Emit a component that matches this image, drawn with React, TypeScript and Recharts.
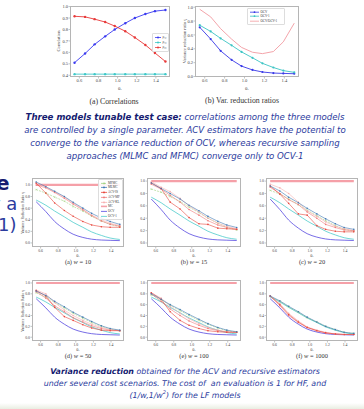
import React from 'react';
import { LineChart, Line, XAxis, YAxis, Legend } from 'recharts';

// theta_1 sample points shared by every panel
const theta = [0.55, 0.66, 0.76, 0.87, 0.97, 1.08, 1.18, 1.29, 1.39, 1.5];
const xTicks = [0.6, 0.8, 1.0, 1.2, 1.4];

// (a) correlations
const rho12 = [0.51, 0.59, 0.67, 0.74, 0.8, 0.855, 0.9, 0.935, 0.96, 0.97];
const rho13 = [0.41, 0.41, 0.41, 0.41, 0.41, 0.41, 0.41, 0.41, 0.41, 0.41];
const rho23 = [0.915, 0.91, 0.89, 0.865, 0.83, 0.785, 0.73, 0.665, 0.595, 0.52];

// (b) variance reduction ratios
const ocv = [0.71, 0.54, 0.37, 0.24, 0.15, 0.095, 0.065, 0.05, 0.045, 0.04];
const ocv1 = [0.74, 0.65, 0.55, 0.45, 0.355, 0.27, 0.19, 0.13, 0.085, 0.06];
const ocvRatio = [0.97, 0.86, 0.69, 0.54, 0.42, 0.35, 0.33, 0.36, 0.5, 0.77];

const mc = [1, 1, 1, 1, 1, 1, 1, 1, 1, 1];

// cost scenarios
const w10Mfmc = [0.92, 0.86, 0.79, 0.72, 0.63, 0.55, 0.46, 0.38, 0.32, 0.28];
const w10Mlmc = [1.05, 0.97, 0.89, 0.8, 0.7, 0.6, 0.51, 0.43, 0.37, 0.32];
const w10AcvIs = [1.03, 0.86, 0.69, 0.56, 0.46, 0.37, 0.31, 0.28, 0.27, 0.27];
const w10AcvMf = [1.0, 0.95, 0.87, 0.77, 0.67, 0.57, 0.47, 0.38, 0.32, 0.29];
const w10AcvKl = [1.04, 0.96, 0.88, 0.79, 0.69, 0.58, 0.48, 0.4, 0.34, 0.3];

const w15Mfmc = [0.87, 0.82, 0.75, 0.67, 0.58, 0.49, 0.4, 0.32, 0.25, 0.21];
const w15Mlmc = [0.97, 0.88, 0.8, 0.71, 0.61, 0.52, 0.43, 0.35, 0.29, 0.25];
const w15AcvIs = [0.97, 0.88, 0.66, 0.55, 0.41, 0.31, 0.3, 0.24, 0.23, 0.22];
const w15AcvMf = [0.95, 0.87, 0.77, 0.66, 0.54, 0.45, 0.36, 0.29, 0.25, 0.22];
const w15AcvKl = [0.99, 0.9, 0.83, 0.72, 0.6, 0.5, 0.4, 0.32, 0.27, 0.23];

const w20Mfmc = [0.85, 0.79, 0.71, 0.62, 0.53, 0.44, 0.36, 0.28, 0.22, 0.19];
const w20Mlmc = [0.92, 0.84, 0.74, 0.65, 0.56, 0.47, 0.39, 0.31, 0.25, 0.22];
const w20AcvIs = [0.92, 0.79, 0.64, 0.47, 0.45, 0.28, 0.22, 0.19, 0.18, 0.18];
const w20AcvMf = [0.9, 0.8, 0.7, 0.62, 0.5, 0.4, 0.3, 0.25, 0.21, 0.2];
const w20AcvKl = [0.95, 0.89, 0.8, 0.66, 0.52, 0.43, 0.34, 0.27, 0.23, 0.2];

const w50Mfmc = [0.82, 0.74, 0.64, 0.54, 0.44, 0.35, 0.27, 0.2, 0.15, 0.12];
const w50Mlmc = [0.85, 0.77, 0.66, 0.56, 0.46, 0.37, 0.29, 0.21, 0.16, 0.13];
const w50AcvIs = [0.86, 0.76, 0.55, 0.38, 0.31, 0.23, 0.17, 0.13, 0.12, 0.12];
const w50AcvMf = [0.84, 0.72, 0.58, 0.47, 0.36, 0.28, 0.21, 0.16, 0.13, 0.12];
const w50AcvKl = [0.87, 0.8, 0.64, 0.5, 0.4, 0.31, 0.24, 0.18, 0.14, 0.12];

const w100Mfmc = [0.78, 0.69, 0.59, 0.49, 0.4, 0.31, 0.24, 0.17, 0.12, 0.09];
const w100Mlmc = [0.8, 0.7, 0.6, 0.51, 0.42, 0.33, 0.25, 0.18, 0.13, 0.1];
const w100AcvIs = [0.82, 0.7, 0.47, 0.31, 0.22, 0.16, 0.12, 0.1, 0.09, 0.09];
const w100AcvMf = [0.8, 0.66, 0.52, 0.4, 0.3, 0.22, 0.16, 0.12, 0.1, 0.09];
const w100AcvKl = [0.82, 0.72, 0.57, 0.44, 0.34, 0.25, 0.18, 0.13, 0.1, 0.09];

const w1000Mfmc = [0.75, 0.66, 0.56, 0.46, 0.36, 0.28, 0.2, 0.14, 0.09, 0.07];
const w1000Mlmc = [0.76, 0.67, 0.57, 0.47, 0.37, 0.28, 0.2, 0.14, 0.09, 0.07];
const w1000AcvIs = [0.76, 0.6, 0.42, 0.28, 0.18, 0.12, 0.08, 0.06, 0.05, 0.05];
const w1000AcvMf = [0.76, 0.58, 0.4, 0.27, 0.18, 0.12, 0.08, 0.06, 0.05, 0.05];
const w1000AcvKl = [0.76, 0.62, 0.44, 0.3, 0.19, 0.13, 0.09, 0.06, 0.05, 0.05];

const SERIF = '"Liberation Serif", "DejaVu Serif", serif';
const SANS = '"DejaVu Sans", Verdana, sans-serif';
const X_DOMAIN = [0.5025, 1.5475];
const fmt = (v: number) => v.toFixed(1);

const buildRows = (cols: Record<string, number[]>) =>
  theta.map((t, i) => {
    const row: Record<string, number> = { t };
    Object.keys(cols).forEach((k) => (row[k] = cols[k][i]));
    return row;
  });

const SERIES: Record<string, { name: string; color: string; dash?: string; marker?: string; width?: number }> = {
  mfmc: { name: 'MFMC', color: '#9fd27f', dash: '2 1', marker: 'x' },
  mlmc: { name: 'MLMC', color: '#3f78b4', marker: 'o' },
  acvis: { name: 'ACV-IS', color: '#e8463c', marker: 'o' },
  acvmf: { name: 'ACV-MF', color: '#f07c7c', marker: 'o' },
  acvkl: { name: 'ACV-KL', color: '#f6b0b0', marker: 'o' },
  mc: { name: 'MC', color: '#f5a0a8', width: 2.2 },
  ocv: { name: 'OCV', color: '#5548e0' },
  ocv1: { name: 'OCV-1', color: '#4ccccc' },
  rho12: { name: 'ρ₁₂', color: '#3a3af0', marker: 'o' },
  rho13: { name: 'ρ₁₃', color: '#3fc8c8', marker: 'o' },
  rho23: { name: 'ρ₂₃', color: '#e83a3a', marker: 'o' },
  bocv: { name: 'OCV', color: '#3838e8', marker: 'o' },
  bocv1: { name: 'OCV-1', color: '#3cc4c4', marker: 'o' },
  ratio: { name: 'OCV/OCV-1', color: '#f29aa0' },
};
// legend order as in the figure
const LEGEND_ORDER = ['rho12', 'rho13', 'rho23', 'bocv', 'bocv1', 'ratio', 'mfmc', 'mlmc', 'acvis', 'acvmf', 'acvkl', 'mc', 'ocv', 'ocv1'];

const crossDot = (color: string, s: number) => (p: any) => {
  const { cx, cy, index } = p;
  return (
    <path
      key={`x${index}`}
      d={`M${cx - s},${cy - s}L${cx + s},${cy + s}M${cx - s},${cy + s}L${cx + s},${cy - s}`}
      stroke={color}
      strokeWidth={0.5}
      fill="none"
    />
  );
};

function series(key: string, r: number, sw = 0.7, smooth = false) {
  const s = SERIES[key];
  let dot: any = false;
  if (s.marker === 'o') dot = { r, fill: s.color, stroke: 'none', strokeWidth: 0 };
  if (s.marker === 'x') dot = crossDot(s.color, r);
  return (
    <Line
      key={key}
      dataKey={key}
      name={s.name}
      type={smooth ? 'monotone' : 'linear'}
      stroke={s.color}
      strokeWidth={s.width ?? sw}
      strokeDasharray={s.dash}
      dot={dot}
      activeDot={false}
      isAnimationActive={false}
    />
  );
}

const makeLegend = (rowH: number, sample: number, font: number, pad: number) => (props: any) => {
  const items = [...(props.payload || [])].sort(
    (a: any, b: any) => LEGEND_ORDER.indexOf(a.dataKey) - LEGEND_ORDER.indexOf(b.dataKey)
  );
  return (
    <div
      style={{
        background: 'rgba(255,255,255,0.9)',
        border: '1px solid #ddd',
        borderRadius: 1,
        padding: `${pad}px ${pad + 1}px`,
        fontFamily: SERIF,
        fontSize: font,
        lineHeight: `${rowH}px`,
        color: '#333',
        boxSizing: 'border-box',
      }}
    >
      {items.map((it: any) => {
        const s = SERIES[it.dataKey];
        return (
          <div key={it.dataKey} style={{ display: 'flex', alignItems: 'center', height: rowH, whiteSpace: 'nowrap' }}>
            <svg width={sample} height={rowH} style={{ marginRight: 1.5, flex: 'none' }}>
              <line
                x1={0}
                x2={sample}
                y1={rowH / 2}
                y2={rowH / 2}
                stroke={s.color}
                strokeWidth={s.width ? 1.6 : 0.8}
                strokeDasharray={s.dash}
              />
              {s.marker && <circle cx={sample / 2} cy={rowH / 2} r={rowH / 5} fill={s.color} />}
            </svg>
            <span>{s.name}</span>
          </div>
        );
      })}
    </div>
  );
};

type PanelProps = {
  x: number;
  y: number;
  w: number;
  h: number;
  yw: number;
  xh: number;
  domain: number[];
  ticks: number[];
  data: any[];
  font: number;
  labelFont: number;
  children: React.ReactNode;
};

const PAD = 3; // room above the frame so the top tick label is not clipped

function Panel({ x, y, w, h, yw, xh, domain, ticks, data, font, labelFont, children }: PanelProps) {
  const tickStyle = { fontSize: font, fill: '#444', fontFamily: SERIF };
  return (
    <div style={{ position: 'absolute', left: x - yw, top: y - PAD }}>
      <LineChart width={yw + w} height={h + xh + PAD} data={data} margin={{ top: PAD, right: 0, bottom: 0, left: 0 }}>
        <XAxis
          type="number"
          dataKey="t"
          domain={X_DOMAIN}
          ticks={xTicks}
          allowDataOverflow
          interval={0}
          height={xh}
          axisLine={false}
          tickLine={{ stroke: '#888', strokeWidth: 0.5 }}
          tickSize={1.5}
          tickMargin={0.5}
          tick={tickStyle}
          tickFormatter={fmt}
          label={{ value: 'θ₁', position: 'insideBottom', offset: 0, fontSize: labelFont, fill: '#444', fontFamily: SERIF }}
        />
        <YAxis
          type="number"
          domain={domain}
          ticks={ticks}
          allowDataOverflow
          interval={0}
          width={yw}
          axisLine={false}
          tickLine={{ stroke: '#888', strokeWidth: 0.5 }}
          tickSize={1.5}
          tickMargin={0.5}
          tick={tickStyle}
          tickFormatter={fmt}
        />
        {children}
      </LineChart>
      <div
        style={{
          position: 'absolute',
          left: yw,
          top: PAD,
          width: w,
          height: h,
          border: '1px solid #b5b5b5',
          boxSizing: 'border-box',
          pointerEvents: 'none',
        }}
      />
    </div>
  );
}

const corrRows = buildRows({ rho12, rho13, rho23 });
const ratioRows = buildRows({ bocv: ocv, bocv1: ocv1, ratio: ocvRatio });

const scenarios = [
  { tag: '(a)', w: '10', col: 0, row: 0, domain: [-0.07, 1.12], cols: { mfmc: w10Mfmc, mlmc: w10Mlmc, acvis: w10AcvIs, acvmf: w10AcvMf, acvkl: w10AcvKl } },
  { tag: '(b)', w: '15', col: 1, row: 0, domain: [-0.065, 1.05], cols: { mfmc: w15Mfmc, mlmc: w15Mlmc, acvis: w15AcvIs, acvmf: w15AcvMf, acvkl: w15AcvKl } },
  { tag: '(c)', w: '20', col: 2, row: 0, domain: [-0.065, 1.05], cols: { mfmc: w20Mfmc, mlmc: w20Mlmc, acvis: w20AcvIs, acvmf: w20AcvMf, acvkl: w20AcvKl } },
  { tag: '(d)', w: '50', col: 0, row: 1, domain: [-0.07, 1.055], cols: { mfmc: w50Mfmc, mlmc: w50Mlmc, acvis: w50AcvIs, acvmf: w50AcvMf, acvkl: w50AcvKl } },
  { tag: '(e)', w: '100', col: 1, row: 1, domain: [-0.07, 1.055], cols: { mfmc: w100Mfmc, mlmc: w100Mlmc, acvis: w100AcvIs, acvmf: w100AcvMf, acvkl: w100AcvKl } },
  { tag: '(f)', w: '1000', col: 2, row: 1, domain: [-0.07, 1.055], cols: { mfmc: w1000Mfmc, mlmc: w1000Mlmc, acvis: w1000AcvIs, acvmf: w1000AcvMf, acvkl: w1000AcvKl } },
];

const COLS = [
  { x: 32, w: 92 },
  { x: 147, w: 94 },
  { x: 266, w: 92 },
];
const ROWS = [
  { y: 178, h: 69, cap: 261 },
  { y: 280, h: 61, cap: 355 },
];

const NAVY = '#151b70';
const BLUE = '#2c3c9e';

const abs = (left: number, top: number, extra: React.CSSProperties = {}): React.CSSProperties => ({
  position: 'absolute',
  left,
  top,
  whiteSpace: 'nowrap',
  ...extra,
});

function TextLine({ cy, size, children }: { cy: number; size: number; children: React.ReactNode }) {
  return (
    <div
      style={abs(0, cy - 6, {
        width: 370,
        textAlign: 'center',
        fontFamily: SANS,
        fontStyle: 'italic',
        fontSize: size,
        lineHeight: '12px',
        color: BLUE,
      })}
    >
      {children}
    </div>
  );
}

function Caption({ cx, cy, size, children }: { cx: number; cy: number; size: number; children: React.ReactNode }) {
  const lh = Math.ceil(size);
  return (
    <div
      style={abs(cx - 60, cy - lh / 2, {
        width: 120,
        textAlign: 'center',
        fontFamily: SERIF,
        fontSize: size,
        lineHeight: `${lh}px`,
        color: '#333',
      })}
    >
      {children}
    </div>
  );
}

function YLabel({ cx, cy, size, children }: { cx: number; cy: number; size: number; children: React.ReactNode }) {
  return (
    <div
      style={abs(cx - 40, cy - 3, {
        width: 80,
        height: 6,
        lineHeight: '6px',
        textAlign: 'center',
        fontFamily: SERIF,
        fontSize: size,
        color: '#444',
        transform: 'rotate(-90deg)',
      })}
    >
      {children}
    </div>
  );
}

export default function App() {
  return (
    <div style={{ position: 'absolute', left: 0, top: 0, width: 364, height: 409, background: '#fff', overflow: 'hidden' }}>
      {/* top-left: correlations */}
      <Panel x={70} y={6} w={100} h={71} yw={11} xh={13} domain={[0.385, 1.005]} ticks={[0.4, 0.5, 0.6, 0.7, 0.8, 0.9, 1.0]} data={corrRows} font={4.5} labelFont={5}>
        {series('rho12', 1.2, 0.9)}
        {series('rho13', 1.2, 0.9)}
        {series('rho23', 1.2, 0.9)}
        <Legend
          layout="vertical"
          align="center"
          verticalAlign="middle"
          wrapperStyle={{ left: 93, top: 27 + PAD, width: 17 }}
          content={makeLegend(5, 6, 3.4, 1)}
        />
      </Panel>
      <YLabel cx={59} cy={41} size={4.6}>Correlation</YLabel>
      <Caption cx={114} cy={102} size={7.8}>(a) Correlations</Caption>

      {/* top-right: variance reduction ratios */}
      <Panel x={195} y={6} w={104} h={71} yw={11} xh={13} domain={[-0.007, 1.017]} ticks={[0, 0.2, 0.4, 0.6, 0.8, 1.0]} data={ratioRows} font={4.5} labelFont={5}>
        {series('bocv', 1.1, 0.9)}
        {series('bocv1', 1.1, 0.9)}
        {series('ratio', 1.1, 0.9)}
        <Legend
          layout="vertical"
          align="center"
          verticalAlign="middle"
          wrapperStyle={{ left: 63, top: 2 + PAD, width: 38 }}
          content={makeLegend(4.4, 9, 3.2, 1)}
        />
      </Panel>
      <YLabel cx={185} cy={41} size={4.3}>Variance reduction ratio γ</YLabel>
      <Caption cx={242} cy={101} size={7.8}>(b) Var. reduction ratios</Caption>

      <TextLine cy={117} size={8.6}>
        <b style={{ color: NAVY }}>Three models tunable test case:</b> correlations among the three models
      </TextLine>
      <TextLine cy={130} size={8.6}>are controlled by a single parameter. ACV estimators have the potential to</TextLine>
      <TextLine cy={143} size={8.6}>converge to the variance reduction of OCV, whereas recursive sampling</TextLine>
      <TextLine cy={156} size={8.6}>approaches (MLMC and MFMC) converge only to OCV-1</TextLine>

      {/* clipped text from the slide behind */}
      <div style={abs(-4, 173, { fontFamily: SANS, fontWeight: 700, fontSize: 20, lineHeight: '20px', color: NAVY })}>e</div>
      <div style={abs(-10, 195, { fontFamily: SANS, fontSize: 18, lineHeight: '17px', color: BLUE })}>y a</div>
      <div style={abs(-2, 216, { fontFamily: SANS, fontSize: 18, lineHeight: '17px', color: BLUE })}>1)</div>

      {scenarios.map((sc) => {
        const c = COLS[sc.col];
        const r = ROWS[sc.row];
        const data = buildRows({ ...sc.cols, mc, ocv, ocv1 });
        return (
          <React.Fragment key={sc.tag}>
            <Panel x={c.x} y={r.y} w={c.w} h={r.h} yw={9} xh={10} domain={sc.domain} ticks={[0, 0.2, 0.4, 0.6, 0.8, 1.0]} data={data} font={3.8} labelFont={4.4}>
              {series('mc', 0, 2.2)}
              {series('ocv', 0, 0.8, true)}
              {series('ocv1', 0, 0.8, true)}
              {series('mfmc', 0.8, 0.6)}
              {series('acvkl', 0.8, 0.6)}
              {series('acvmf', 0.8, 0.6)}
              {series('acvis', 0.8, 0.6)}
              {series('mlmc', 0.8, 0.6)}
              {sc.tag === '(a)' && (
                <Legend
                  layout="vertical"
                  align="center"
                  verticalAlign="middle"
                  wrapperStyle={{ left: 75, top: 1 + PAD, width: 25 }}
                  content={makeLegend(4.8, 6, 3.1, 0.5)}
                />
              )}
            </Panel>
            {sc.col === 0 && (
              <YLabel cx={23} cy={r.y + r.h / 2} size={3.8}>
                Variance Reduction Ratio γ
              </YLabel>
            )}
            <Caption cx={c.x + c.w / 2} cy={r.cap} size={6.4}>
              {sc.tag} <i>w</i> = {sc.w}
            </Caption>
          </React.Fragment>
        );
      })}

      <TextLine cy={372} size={7.9}>
        <b style={{ color: NAVY }}>Variance reduction</b> obtained for the ACV and recursive estimators
      </TextLine>
      <TextLine cy={384} size={7.9}>under several cost scenarios. The cost of &nbsp;an evaluation is 1 for HF, and</TextLine>
      <TextLine cy={396} size={7.9}>
        (1/w,1/w<sup style={{ fontSize: 5, lineHeight: 0 }}>2</sup>) for the LF models
      </TextLine>
      <div style={abs(0, 403, { width: 364, height: 6, background: 'linear-gradient(#ffffff, #e9eee2)' })} />
    </div>
  );
}
